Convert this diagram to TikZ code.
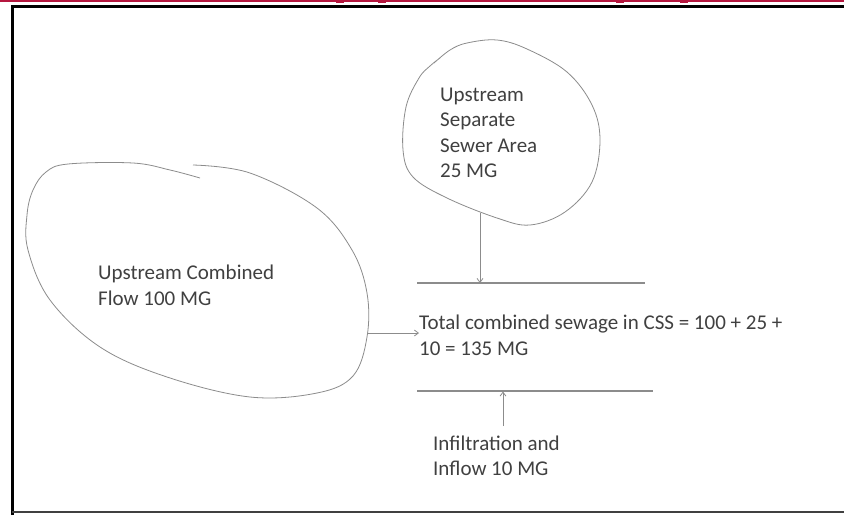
\documentclass[tikz,border=0pt]{standalone}
\usepackage{fontspec}
\setmainfont{Carlito}
\usetikzlibrary{arrows.meta}
\definecolor{topred}{HTML}{B5173F}
\definecolor{txtgray}{HTML}{404040}
\definecolor{linegray}{HTML}{8C8C8C}
\tikzset{
  lbl/.style={anchor=west, align=left, inner sep=0pt, text=txtgray,
    font=\fontsize{21}{25.5}\selectfont},
  blob/.style={draw=linegray, line width=0.8pt, line join=round},
  hline/.style={draw=linegray, line width=1.1pt},
  flow/.style={draw=linegray, line width=0.8pt, -{Straight Barb[length=4pt,width=6pt]}},
}
\begin{document}
\begin{tikzpicture}[x=1pt,y=-1pt]
\useasboundingbox (0,0) rectangle (844,515);
\fill[white] (0,0) rectangle (844,515);
% top red rule and fragments
\fill[topred] (0,0) rectangle (844,2);
\foreach \xx in {340,382,620,684}{\fill[topred] (\xx-4,1) rectangle (\xx+4,3);}
% frame
\draw[black, line width=3pt] (12,515) -- (12,6) -- (850,6);
\draw[black!75, line width=2.2pt] (12,512) -- (850,512);
% separate sewer area blob
\draw[blob] plot[smooth, tension=0.6] coordinates {
 (434,63) (450,50) (467,43) (497,40) (527,49) (567,72) (592,105) (600,140)
 (592,182) (565,212) (530,225) (497,218) (447,198) (413,177) (403,150)
 (406,107) (419,78) (430,66) (440,58)};
% combined flow blob
\draw[blob] plot[smooth, tension=0.6] coordinates {
 (193,165) (250,173) (317,208) (352,250) (367,293) (367,337) (353,376)
 (317,393) (250,397) (167,377) (100,347) (50,300) (28,250) (27,215)
 (33,190) (46,172) (68,164) (133,163) (170,170) (200,178)};
% texts
\node[lbl] (sep) at (440,133) {Upstream\\Separate\\Sewer Area\\25 MG};
\node[lbl] (comb) at (98,285.5) {Upstream Combined\\Flow 100 MG};
\node[lbl] (total) at (419,335.5) {Total combined sewage in CSS = 100 + 25 +\\10 = 135 MG};
\node[lbl] (infl) at (433,456) {Infiltration and\\Inflow 10 MG};
% lines
\coordinate (l1a) at (417,283);
\coordinate (l1b) at (645,283);
\coordinate (l2a) at (417,391);
\coordinate (l2b) at (653,391);
\draw[hline] (l1a) -- (l1b);
\draw[hline] (l2a) -- (l2b);
% arrows
\coordinate (sepbot) at (480,213);
\coordinate (sepend) at (480,283);
\draw[flow] (sepbot) -- (sepend);
\coordinate (combr) at (367,333);
\draw[flow] (combr) -- (total.west |- combr);
\coordinate (inftop) at (503,426);
\coordinate (infend) at (503,391.5);
\draw[flow] (inftop) -- (infend);
\end{tikzpicture}
\end{document}
